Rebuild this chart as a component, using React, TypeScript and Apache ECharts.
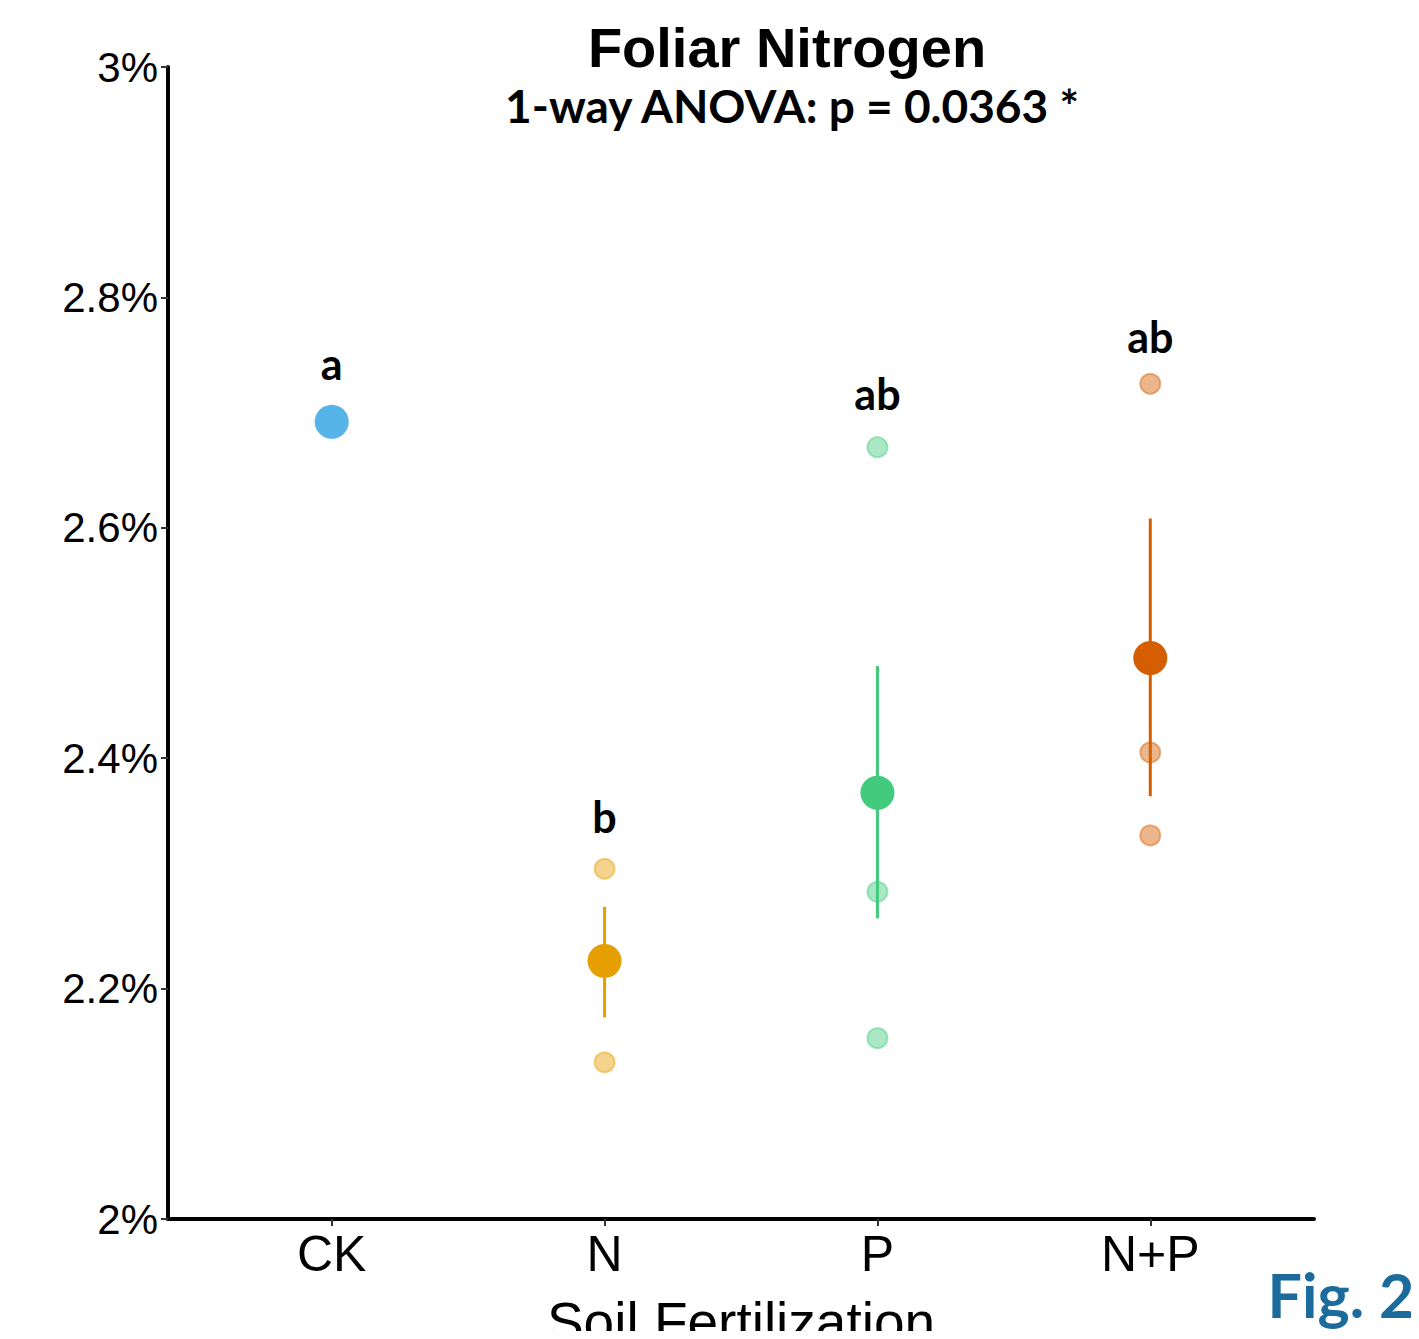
import React, { useEffect, useRef } from "react";
import * as echarts from "echarts";

const categories = ["CK", "N", "P", "N+P"];
const colors = ["#56B4E9", "#E69F00", "#42CA7D", "#D55E00"];
const means = [2.692, 2.224, 2.370, 2.487];
const errLow = [null, 2.175, 2.261, 2.367];
const errHigh = [null, 2.271, 2.480, 2.608];
const replicates: number[][] = [[], [2.304, 2.136], [2.670, 2.284, 2.157], [2.725, 2.405, 2.333]];
const letters = ["a", "b", "ab", "ab"];
const letterY = [2.743, 2.349, 2.717, 2.766];
const yTicks = [2, 2.2, 2.4, 2.6, 2.8, 3];

export default function App() {
  const ref = useRef<HTMLDivElement>(null);
  useEffect(() => {
    const chart = echarts.init(ref.current!, null, { renderer: "svg" });
    const errData = categories
      .map((_, i) => (errLow[i] == null ? null : [i + 1, errLow[i], errHigh[i], i]))
      .filter((d) => d != null);
    const repData: any[] = [];
    replicates.forEach((arr, i) =>
      arr.forEach((v) =>
        repData.push({
          value: [i + 1, v],
          itemStyle: { color: colors[i], opacity: 0.45, borderColor: colors[i], borderWidth: 2 },
        })
      )
    );
    const meanData = means.map((v, i) => ({ value: [i + 1, v], itemStyle: { color: colors[i], opacity: 1 } }));
    const letterData = letters.map((l, i) => ({ value: [i + 1, letterY[i]], name: l }));

    chart.setOption({
      animation: false,
      backgroundColor: "#ffffff",
      title: [
        {
          text: "Foliar Nitrogen",
          left: 782,
          top: 14,
          textAlign: "center",
          textStyle: { fontFamily: "Liberation Sans", fontWeight: "bold", fontSize: 56, color: "#000" },
        },
        {
          text: "1-way ANOVA: p = 0.0363 *",
          left: 787,
          top: 77,
          textAlign: "center",
          textStyle: { fontFamily: "Lato", fontWeight: "bold", fontSize: 46, color: "#000" },
        },
        {
          text: "Fig. 2",
          left: 1336,
          top: 1259,
          textAlign: "center",
          textStyle: { fontFamily: "Lato", fontWeight: "bold", fontSize: 61, color: "#1B6B9D" },
        },
      ],
      grid: { left: 168, top: 67, width: 1146, height: 1152, outerBoundsMode: "none", containLabel: false },
      xAxis: {
        type: "value",
        min: 0.4,
        max: 4.6,
        splitLine: { show: false },
        axisLine: { show: true, lineStyle: { color: "#000", width: 4 } },
        axisTick: { show: true, customValues: [1, 2, 3, 4], length: 7, lineStyle: { color: "#333", width: 2 } },
        axisLabel: {
          customValues: [1, 2, 3, 4],
          formatter: (v: number) => categories[Math.round(v) - 1] ?? "",
          fontFamily: "Liberation Sans",
          fontSize: 50,
          color: "#000",
          margin: 10,
        },
        name: "Soil Fertilization",
        nameLocation: "middle",
        nameGap: 75,
        nameTextStyle: { fontFamily: "Liberation Sans", fontSize: 55, color: "#000", verticalAlign: "top" },
      },
      yAxis: {
        type: "value",
        min: 2,
        max: 3,
        interval: 0.2,
        splitLine: { show: false },
        axisLine: { show: true, lineStyle: { color: "#000", width: 4 } },
        axisTick: { show: true, length: 7, lineStyle: { color: "#333", width: 2 } },
        axisLabel: {
          formatter: (v: number) => {
            const t = yTicks.find((x) => Math.abs(x - v) < 1e-6);
            return t == null ? "" : String(Math.round(t * 10) / 10) + "%";
          },
          fontFamily: "Liberation Sans",
          fontSize: 42,
          color: "#000",
          margin: 10,
        },
      },
      series: [
        {
          type: "custom",
          data: errData,
          renderItem: (params: any, api: any) => {
            const x = api.value(0);
            const p1 = api.coord([x, api.value(1)]);
            const p2 = api.coord([x, api.value(2)]);
            const ci = api.value(3);
            return {
              type: "line",
              shape: { x1: p1[0], y1: p1[1], x2: p2[0], y2: p2[1] },
              style: { stroke: colors[ci], lineWidth: 3 },
            };
          },
          z: 1,
        },
        {
          type: "scatter",
          data: repData,
          symbolSize: 20,
          z: 2,
        },
        {
          type: "scatter",
          data: meanData,
          symbolSize: 34,
          z: 3,
        },
        {
          type: "scatter",
          data: letterData,
          symbolSize: 1,
          itemStyle: { color: "rgba(0,0,0,0)", opacity: 1 },
          label: {
            show: true,
            position: "inside",
            formatter: (p: any) => p.name,
            fontFamily: "Lato",
            fontWeight: "bold",
            fontSize: 43,
            color: "#000",
            opacity: 1,
            textBorderWidth: 0,
          },
          z: 4,
        },
      ],
    });
    return () => chart.dispose();
  }, []);
  return <div ref={ref} style={{ width: 1419, height: 1339, margin: -8 }} />;
}
